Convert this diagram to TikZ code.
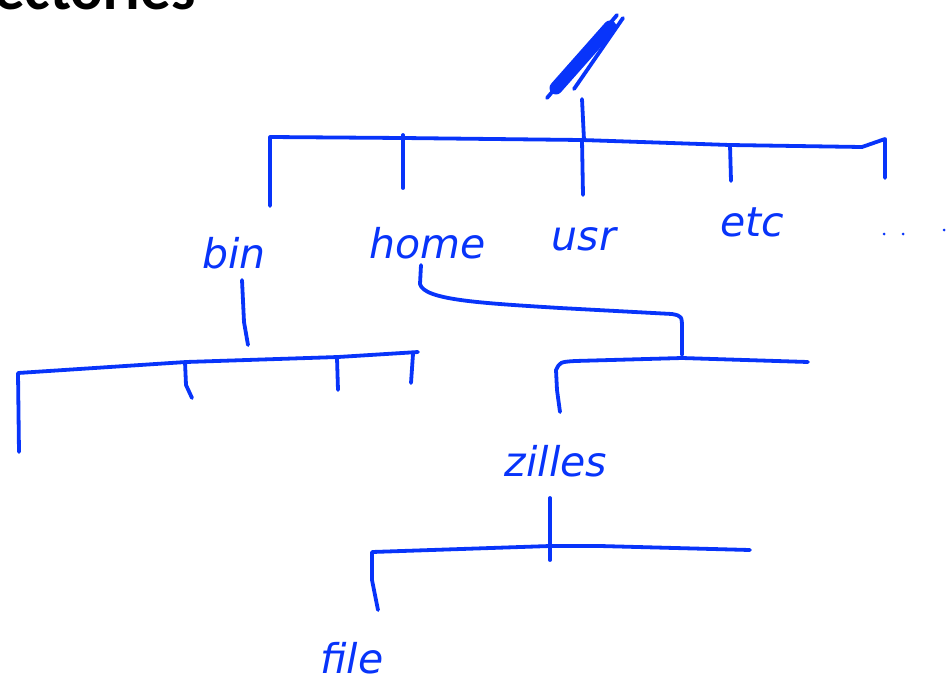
\documentclass[tikz,border=0pt]{standalone}
\usepackage{fontspec}
\setmainfont{DejaVu Sans}
\newfontfamily\titlefont{Carlito}
\definecolor{ink}{RGB}{8,52,250}
\tikzset{
  pen/.style={draw=ink, line width=3.8pt, line cap=round, line join=round},
  lbl/.style={text=ink, font=\fontsize{41}{41}\selectfont\itshape, inner sep=0pt, anchor=base},
  dot/.style={fill=ink, circle, inner sep=0pt, minimum size=3pt},
}
\begin{document}
\begin{tikzpicture}[x=1pt,y=-1pt]
\useasboundingbox[fill=white] (0,0) rectangle (947,683);
% title fragment
\node[anchor=base west, inner sep=0pt, font=\titlefont\bfseries\fontsize{61}{61}\selectfont] (title) at (-6,9) {ectories};
% root slash
\draw[pen, line width=13pt] (556,88) -- (610,27);
\draw[pen] (547,98) -- (617,15);
\draw[pen] (574,89) -- (623,18);
\coordinate (rootb) at (582,99);
\coordinate (bar1m) at (584,140);
\draw[pen] (rootb) -- (bar1m);
% top bar
\draw[pen] (270,206) -- (270,137) -- (403,138) -- (582,140) -- (730,145) -- (862,147) -- (885,139) -- (885,178);
\draw[pen] (403,135) -- (403,188);
\draw[pen] (582,140) -- (583,195);
\draw[pen] (730,145) -- (731,181);
% labels row 1
\node[lbl] (bin) at (234,268) {bin};
\node[lbl] (home) at (428,258) {home};
\node[lbl] (usr) at (584,250) {usr};
\node[lbl] (etc) at (752,236) {etc};
\node[dot] (d1) at (884,234) {};
\node[dot] (d2) at (903,234) {};
\node[dot] (d3) at (944,230) {};
% bin subtree
\draw[pen] (242,280) -- (244,322) -- (248,345);
\draw[pen] (19,452) -- (18,373) -- (186,362) -- (338,357) -- (418,352);
\draw[pen] (185,362) -- (186,385) -- (192,398);
\draw[pen] (337,358) -- (338,390);
\draw[pen] (413,354) -- (411,383);
% home subtree
\draw[pen] (421,265) -- (420,284) .. controls (424,300) and (480,303) .. (560,308) -- (672,314) .. controls (682,316) .. (682,330) -- (682,355);
\draw[pen] (560,412) -- (557,390) -- (556,370) .. controls (560,362) .. (575,361) -- (682,358) -- (808,362);
\node[lbl] (zilles) at (556,476) {zilles};
% zilles subtree
\draw[pen] (550,498) -- (550,560);
\draw[pen] (378,610) -- (372,580) -- (372,552) -- (550,546) -- (600,546) -- (750,550);
\node[lbl] (file) at (352,673) {file};
\end{tikzpicture}
\end{document}
